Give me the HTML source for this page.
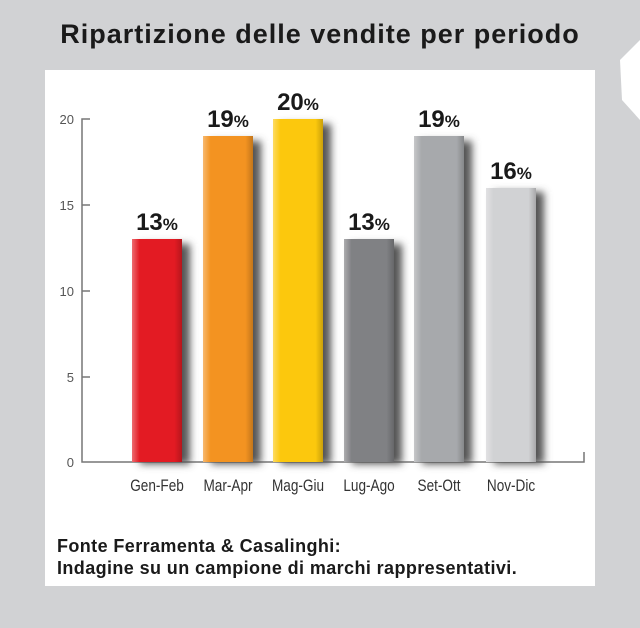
<!DOCTYPE html>
<html><head><meta charset="utf-8"><style>
body{margin:0;width:640px;height:628px;background:#d1d2d4;position:relative;overflow:hidden;font-family:"Liberation Sans",sans-serif}
.t{position:absolute;left:0;width:640px;top:19px;text-align:center;font-weight:bold;font-size:27px;color:#1a1a1a;letter-spacing:1px}
.panel{position:absolute;left:45px;top:70px;width:550px;height:516px;background:#fff}
.f{position:absolute;left:57px;font-weight:bold;font-size:18px;color:#1a1a1a;letter-spacing:0.4px}
</style></head><body>
<div class="t">Ripartizione delle vendite per periodo</div>
<svg style="position:absolute;left:0;top:0" width="640" height="628">
<polygon points="620,60 640,40 640,120 622,100" fill="#fff"/>
</svg>
<div class="panel"></div>
<svg style="position:absolute;left:0;top:0" width="640" height="628" font-family="Liberation Sans, sans-serif">
<defs><filter id="s" x="-30%" y="-10%" width="180%" height="130%"><feGaussianBlur stdDeviation="4"/></filter>
<linearGradient id="hl" x1="0" x2="1"><stop offset="0" stop-color="#fff" stop-opacity="0.35"/><stop offset="0.15" stop-color="#fff" stop-opacity="0"/><stop offset="0.85" stop-color="#000" stop-opacity="0"/><stop offset="1" stop-color="#000" stop-opacity="0.2"/></linearGradient></defs>
<g stroke="#777" stroke-width="1.5" fill="none">
<polyline points="90,119 82,119 82,462 584,462 584,452"/>
<line x1="82" y1="205" x2="90" y2="205"/><line x1="82" y1="291" x2="90" y2="291"/><line x1="82" y1="377" x2="90" y2="377"/>
</g>
<g font-size="13" fill="#555" text-anchor="end">
<text x="74" y="124">20</text><text x="74" y="210">15</text><text x="74" y="296">10</text><text x="74" y="382">5</text><text x="74" y="467">0</text>
</g>
<g id="bars">
<rect x="140" y="244" width="50" height="220" fill="#555" filter="url(#s)"/>
<rect x="211" y="141" width="50" height="323" fill="#555" filter="url(#s)"/>
<rect x="281" y="124" width="50" height="340" fill="#555" filter="url(#s)"/>
<rect x="352" y="244" width="50" height="220" fill="#555" filter="url(#s)"/>
<rect x="422" y="141" width="50" height="323" fill="#555" filter="url(#s)"/>
<rect x="494" y="192" width="50" height="272" fill="#555" filter="url(#s)"/>
<rect x="132" y="239" width="50" height="223" fill="#e31b23"/>
<rect x="203" y="136" width="50" height="326" fill="#f39321"/>
<rect x="273" y="119" width="50" height="343" fill="#fcc80d"/>
<rect x="344" y="239" width="50" height="223" fill="#808184"/>
<rect x="414" y="136" width="50" height="326" fill="#a7a9ac"/>
<rect x="486" y="188" width="50" height="274" fill="#d1d2d4"/>
<g fill="url(#hl)">
<rect x="132" y="239" width="50" height="223"/><rect x="203" y="136" width="50" height="326"/><rect x="273" y="119" width="50" height="343"/><rect x="344" y="239" width="50" height="223"/><rect x="414" y="136" width="50" height="326"/><rect x="486" y="188" width="50" height="274"/>
</g>
</g>
<g font-size="24" font-weight="bold" fill="#1a1a1a" text-anchor="middle">
<text x="157" y="230">13<tspan font-size="17">%</tspan></text>
<text x="228" y="127">19<tspan font-size="17">%</tspan></text>
<text x="298" y="110">20<tspan font-size="17">%</tspan></text>
<text x="369" y="230">13<tspan font-size="17">%</tspan></text>
<text x="439" y="127">19<tspan font-size="17">%</tspan></text>
<text x="511" y="179">16<tspan font-size="17">%</tspan></text>
</g>
<g font-size="17" fill="#333" text-anchor="middle" transform="scale(0.8,1)">
<text x="196.3" y="491">Gen-Feb</text><text x="285" y="491">Mar-Apr</text><text x="372.5" y="491">Mag-Giu</text><text x="461.3" y="491">Lug-Ago</text><text x="548.8" y="491">Set-Ott</text><text x="638.8" y="491">Nov-Dic</text>
</g>
</svg>
<div class="f" style="top:536px">Fonte Ferramenta &amp; Casalinghi:</div>
<div class="f" style="top:558px">Indagine su un campione di marchi rappresentativi.</div>
</body></html>
